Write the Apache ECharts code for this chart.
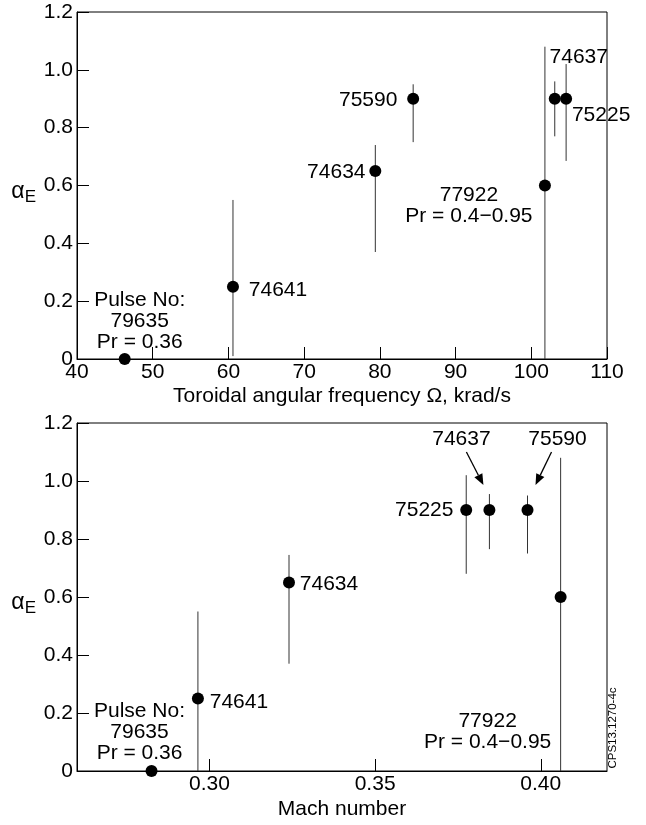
<!DOCTYPE html>
<html>
<head>
<meta charset="utf-8">
<script src="https://cdn.jsdelivr.net/npm/echarts@6/dist/echarts.min.js"></script>
<style>
  html, body { margin: 0; padding: 0; background: #fff; }
  #chart { width: 646px; height: 825px; }
</style>
</head>
<body>
<div id="chart"></div>
<script>
// top panel: alpha_E vs toroidal angular frequency
var topPulses = ['79635', '74641', '74634', '75590', '77922', '74637', '75225'];
var topOmega = [46.3, 60.6, 79.4, 84.4, 101.8, 103.1, 104.6];
var topAlpha = [0, 0.25, 0.65, 0.90, 0.60, 0.90, 0.90];
var topErrLow = [null, 0.01, 0.37, 0.75, 0, 0.77, 0.685];
var topErrHigh = [null, 0.55, 0.74, 0.95, 1.08, 0.96, 1.02];

// bottom panel: alpha_E vs Mach number
var botPulses = ['79635', '74641', '74634', '75225', '74637', '75590', '77922'];
var botMach = [0.2825, 0.2965, 0.324, 0.3775, 0.3845, 0.396, 0.406];
var botAlpha = [0, 0.25, 0.65, 0.90, 0.90, 0.90, 0.60];
var botErrLow = [null, 0, 0.37, 0.68, 0.765, 0.75, 0];
var botErrHigh = [null, 0.55, 0.745, 1.02, 0.955, 0.95, 1.08];

var machTicks = [0.30, 0.35, 0.40];

var labelText = {
    '79635': 'Pulse No:\n79635\nPr = 0.36',
    '77922': '77922\nPr = 0.4\u22120.95'
};
// pulses whose label points at the marker with an arrow (bottom panel)
var arrowPulses = ['74637', '75590'];

// label centre offsets from the marker, px
var topLabelOffset = {
    '79635': [15, -38], '74641': [45, 3], '74634': [-39, 1], '75590': [-45, 1],
    '77922': [-76, 20], '74637': [24, -42], '75225': [35, 16]
};
var botLabelOffset = {
    '79635': [-12, -39], '74641': [41, 4], '74634': [40, 2], '75225': [-42, 0],
    '74637': [-28, -71], '75590': [30, -71], '77922': [-73, 135]
};
var arrowOffset = {
    '74637': { from: [-23, -58], to: [-6, -25] },
    '75590': { from: [24, -58], to: [8, -25] }
};

var FONT = "'Liberation Sans', Arial, Helvetica, sans-serif";
var chart = echarts.init(document.getElementById('chart'));

function pointData(pulses, xs, ys, offsets) {
    return pulses.map(function (p, i) {
        return {
            name: p,
            value: [xs[i], ys[i]],
            label: {
                show: true,
                position: 'inside',
                offset: offsets[p],
                color: '#000',
                formatter: labelText[p] || p
            }
        };
    });
}

function errData(xs, lo, hi) {
    var out = [];
    xs.forEach(function (x, i) {
        if (lo[i] !== null) out.push([x, lo[i], hi[i]]);
    });
    return out;
}

function renderErr(params, api) {
    var a = api.coord([api.value(0), api.value(1)]);
    var b = api.coord([api.value(0), api.value(2)]);
    return {
        type: 'line',
        shape: { x1: a[0], y1: a[1], x2: b[0], y2: b[1] },
        style: { stroke: '#333', lineWidth: 1 }
    };
}

function renderArrow(params, api) {
    var p = api.coord([api.value(0), api.value(1)]);
    var off = arrowOffset[arrowPulses[params.dataIndex]];
    var sx = p[0] + off.from[0], sy = p[1] + off.from[1];
    var tx = p[0] + off.to[0], ty = p[1] + off.to[1];
    var dx = tx - sx, dy = ty - sy;
    var len = Math.sqrt(dx * dx + dy * dy);
    var ux = dx / len, uy = dy / len;
    var hl = 11, hw = 4.5;
    var bx = tx - ux * hl, by = ty - uy * hl;
    return {
        type: 'group',
        children: [
            { type: 'line', shape: { x1: sx, y1: sy, x2: bx, y2: by }, style: { stroke: '#000', lineWidth: 1.3 } },
            { type: 'polygon', shape: { points: [[tx, ty], [bx - uy * hw, by + ux * hw], [bx + uy * hw, by - ux * hw]] }, style: { fill: '#000' } }
        ]
    };
}

var axisText = { color: '#000', fontSize: 21, fontFamily: FONT };

function yAxisOf(gridIndex) {
    return {
        type: 'value', gridIndex: gridIndex, min: 0, max: 1.2, interval: 0.2,
        name: '{a|\u03b1}{s|E}', nameLocation: 'middle', nameRotate: 0, nameGap: 41,
        nameTextStyle: {
            padding: [12, 0, 0, 0],
            rich: {
                a: { fontSize: 23, fontFamily: FONT, color: '#000', lineHeight: 28, verticalAlign: 'middle' },
                s: { fontSize: 17, fontFamily: FONT, color: '#000', verticalAlign: 'bottom' }
            }
        },
        axisLine: { show: true, lineStyle: { color: '#000', width: 1 } },
        axisTick: { show: true, inside: true, length: 12, lineStyle: { color: '#000' } },
        axisLabel: Object.assign({ margin: 4, formatter: function (v) { return v === 0 ? '0' : v.toFixed(1); } }, axisText),
        splitLine: { show: false }
    };
}

var pointLabel = { color: '#000', fontSize: 21, fontFamily: FONT, lineHeight: 21, align: 'center', verticalAlign: 'middle' };

var option = {
    backgroundColor: '#fff',
    animation: false,
    grid: [
        { left: 77, top: 12, width: 530, height: 347, show: true, borderColor: '#000', borderWidth: 1, backgroundColor: 'transparent' },
        { left: 77, top: 423, width: 530, height: 348, show: true, borderColor: '#000', borderWidth: 1, backgroundColor: 'transparent' }
    ],
    xAxis: [
        {
            type: 'value', gridIndex: 0, min: 40, max: 110, interval: 10,
            name: 'Toroidal angular frequency \u03a9, krad/s', nameLocation: 'middle', nameGap: 27,
            nameTextStyle: axisText,
            axisLine: { show: true, lineStyle: { color: '#000', width: 1 } },
            axisTick: { show: true, inside: true, length: 12, lineStyle: { color: '#000' } },
            axisLabel: Object.assign({ margin: 3 }, axisText),
            splitLine: { show: false }
        },
        {
            type: 'value', gridIndex: 1, min: 0.26, max: 0.42,
            name: 'Mach number', nameLocation: 'middle', nameGap: 28,
            nameTextStyle: axisText,
            axisLine: { show: true, lineStyle: { color: '#000', width: 1 } },
            axisTick: { show: true, inside: true, length: 12, customValues: machTicks, lineStyle: { color: '#000' } },
            axisLabel: Object.assign({ margin: 3, customValues: machTicks, formatter: function (v) { return v.toFixed(2); } }, axisText),
            splitLine: { show: false }
        }
    ],
    yAxis: [yAxisOf(0), yAxisOf(1)],
    series: [
        {
            type: 'custom', xAxisIndex: 0, yAxisIndex: 0, z: 2,
            renderItem: renderErr, data: errData(topOmega, topErrLow, topErrHigh), silent: true
        },
        {
            type: 'scatter', xAxisIndex: 0, yAxisIndex: 0, z: 3,
            symbol: 'circle', symbolSize: 12, itemStyle: { color: '#000', opacity: 1 },
            label: pointLabel,
            data: pointData(topPulses, topOmega, topAlpha, topLabelOffset)
        },
        {
            type: 'custom', xAxisIndex: 1, yAxisIndex: 1, z: 2,
            renderItem: renderErr, data: errData(botMach, botErrLow, botErrHigh), silent: true
        },
        {
            type: 'scatter', xAxisIndex: 1, yAxisIndex: 1, z: 3,
            symbol: 'circle', symbolSize: 12, itemStyle: { color: '#000', opacity: 1 },
            label: pointLabel,
            data: pointData(botPulses, botMach, botAlpha, botLabelOffset)
        },
        {
            type: 'custom', xAxisIndex: 1, yAxisIndex: 1, z: 4, silent: true,
            renderItem: renderArrow,
            data: arrowPulses.map(function (p) {
                var i = botPulses.indexOf(p);
                return [botMach[i], botAlpha[i]];
            })
        }
    ],
    graphic: [
        {
            type: 'text', x: 613, y: 728, rotation: Math.PI / 2,
            style: { text: 'CPS13.1270-4c', fontSize: 11.5, fontFamily: FONT, fill: '#000', align: 'center', verticalAlign: 'middle' }
        }
    ]
};

chart.setOption(option);
</script>
</body>
</html>
